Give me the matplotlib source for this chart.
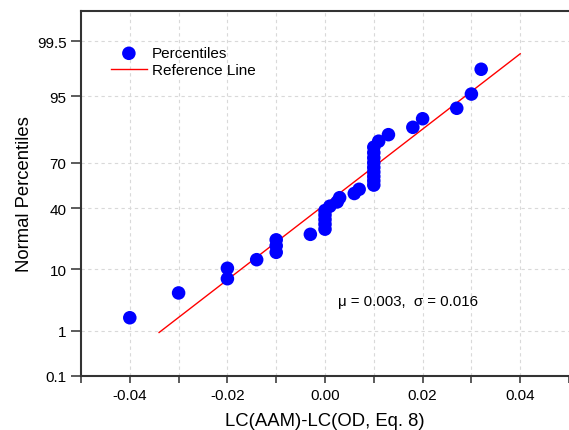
import numpy as np
import matplotlib
matplotlib.use("Agg")
import matplotlib.pyplot as plt
from statistics import NormalDist

# differences LC(AAM)-LC(OD), sorted, and their normal percentiles
diff = [-0.040, -0.030, -0.020, -0.020, -0.014, -0.010, -0.010, -0.010, -0.003,
        0.000, 0.000, 0.000, 0.000, 0.000, 0.001, 0.0025, 0.003, 0.006, 0.007,
        0.010, 0.010, 0.010, 0.010, 0.010, 0.010, 0.010, 0.010, 0.010,
        0.011, 0.013, 0.018, 0.020, 0.027, 0.030, 0.032]
pct = [1.77, 4.61, 7.45, 10.28, 13.12, 15.96, 18.79, 21.63, 24.47,
       27.30, 30.14, 32.98, 35.82, 38.65, 41.49, 44.33, 47.16, 50.00, 52.84,
       55.67, 58.51, 61.35, 64.18, 67.02, 69.86, 72.70, 75.53, 78.37,
       81.21, 84.04, 86.88, 89.72, 92.55, 95.39, 98.23]

ref_x = [-0.034, 0.040]
ref_pct = [0.93, 99.1]

xticks = [-0.05, -0.04, -0.03, -0.02, -0.01, 0.0, 0.01, 0.02, 0.03, 0.04, 0.05]
xtick_labels = ['', '-0.04', '', '-0.02', '', '0.00', '', '0.02', '', '0.04', '']
yticks = [0.1, 1, 10, 40, 70, 95, 99.5]
ytick_labels = ["0.1", "1", "10", "40", "70", "95", "99.5"]

nd = NormalDist()


def fwd(p):
    p = np.clip(np.asarray(p, dtype=float), 1e-6, 100 - 1e-6)
    return np.vectorize(lambda v: nd.inv_cdf(v / 100.0))(p) if p.size else p


def inv(z):
    z = np.asarray(z, dtype=float)
    return np.vectorize(lambda v: nd.cdf(v) * 100.0)(z) if z.size else z


plt.rcParams['font.family'] = ['Liberation Sans', 'DejaVu Sans']

fig = plt.figure(figsize=(5.69, 4.31), dpi=100)
ax = fig.add_axes([81 / 569, 1 - 377 / 431, 1 - 81 / 569, (377 - 12) / 431])

ax.set_yscale('function', functions=(fwd, inv))
ax.set_xlim(-0.05, 0.05)
ax.set_ylim(0.1, 99.9)

line, = ax.plot(ref_x, ref_pct, color='#ff0000', lw=1.0, zorder=2)
pts = ax.scatter(diff, pct, s=95, color='#0000ff', edgecolors='none', zorder=3)

ax.set_xticks(xticks)
ax.set_xticklabels(xtick_labels)
ax.set_yticks(yticks)
ax.set_yticklabels(ytick_labels)
ax.yaxis.set_minor_locator(matplotlib.ticker.NullLocator())
ax.xaxis.set_minor_locator(matplotlib.ticker.NullLocator())

ax.tick_params(direction='out', width=1.2, labelsize=11, colors='#404040',
               labelcolor='black')
ax.tick_params(axis='x', length=5)
ax.tick_params(axis='y', length=7)
ax.grid(True, ls=(0, (3, 3)), color='#d9d9d9', lw=0.8)
# no grid at the bottom boundary or outer x limits
for gl, v in zip(ax.yaxis.get_gridlines(), yticks):
    if v == 0.1:
        gl.set_visible(False)
for gl, v in zip(ax.xaxis.get_gridlines(), xticks):
    if abs(v) == 0.05:
        gl.set_visible(False)

for side in ('left', 'bottom', 'top'):
    ax.spines[side].set_linewidth(1.5)
    ax.spines[side].set_color('#333333')
ax.spines['right'].set_visible(False)

ax.set_xlabel('LC(AAM)-LC(OD, Eq. 8)', fontsize=13.3, labelpad=7)
ax.set_ylabel('Normal Percentiles', fontsize=13.3, labelpad=3)

ax.text(0.0027, 3.46, 'μ = 0.003,  σ = 0.016', fontsize=10.8, va='center', ha='left')

ax.legend([pts, line], ['Percentiles', 'Reference Line'], loc='upper left',
          bbox_to_anchor=(0.048, 0.92), frameon=False, fontsize=11,
          handlelength=2.4, handletextpad=0.3, labelspacing=0.2, borderaxespad=0)

fig.savefig('out.png', dpi=100)
